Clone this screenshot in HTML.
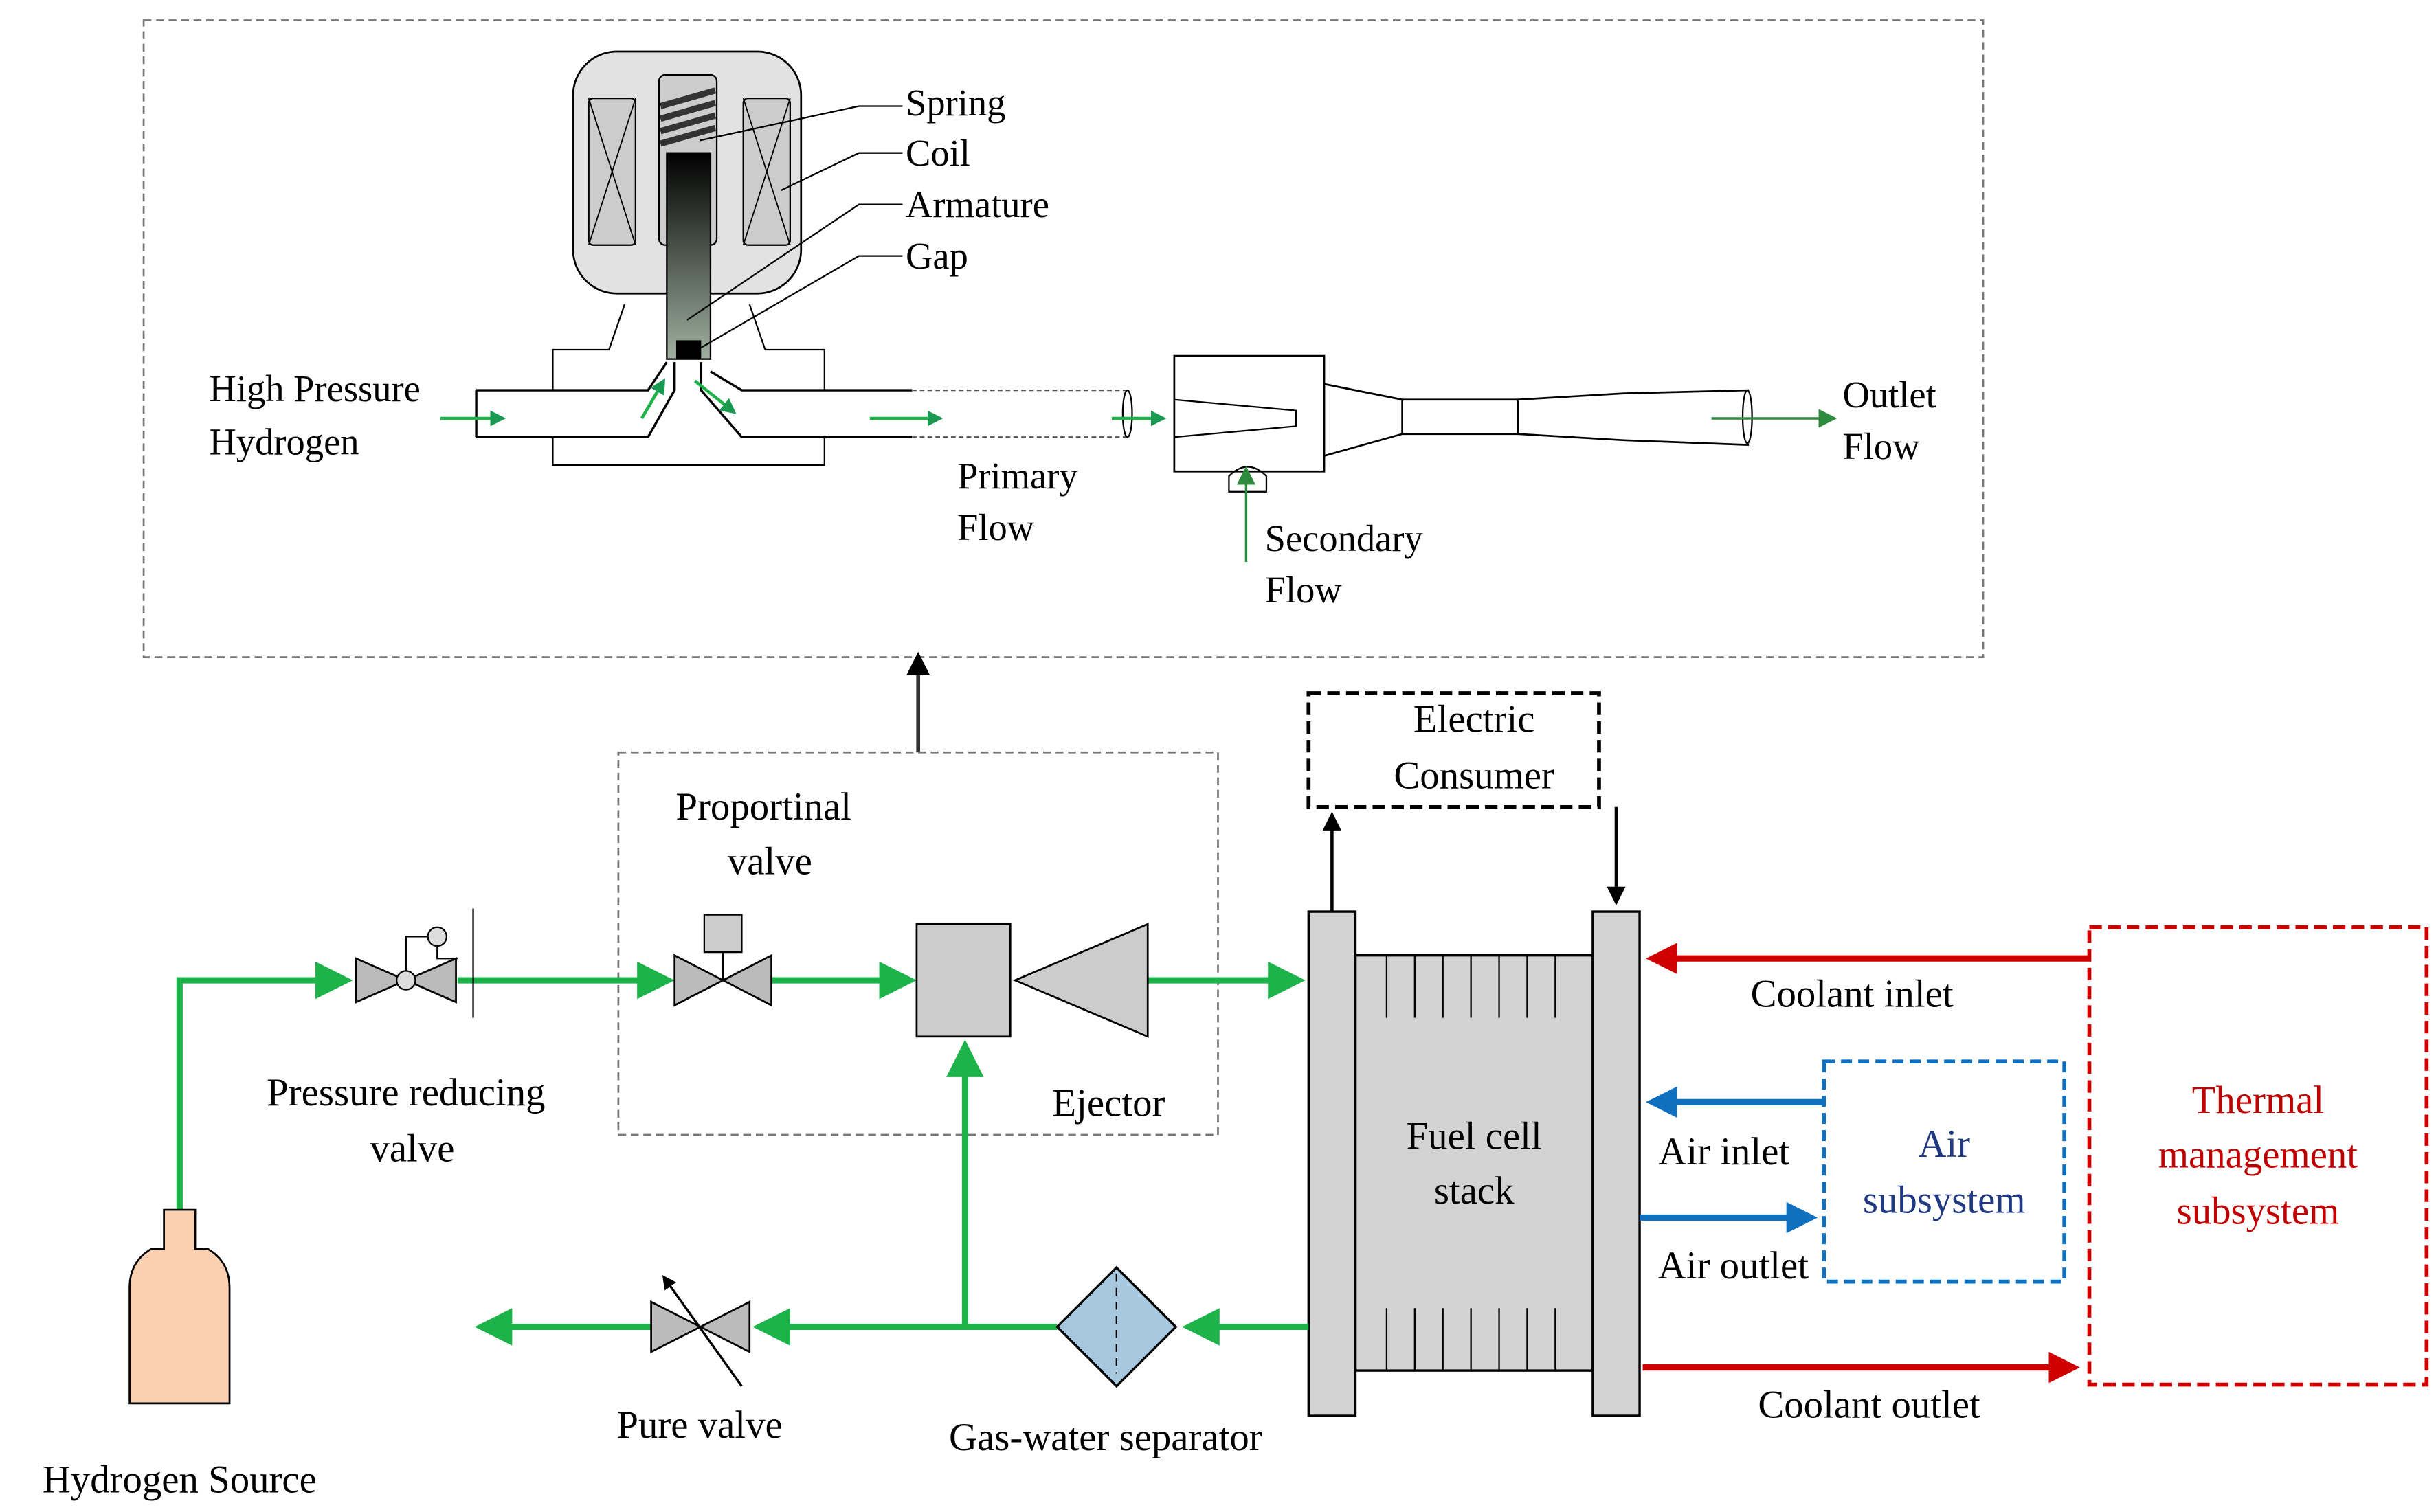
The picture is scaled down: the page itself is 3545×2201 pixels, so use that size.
<!DOCTYPE html>
<html><head><meta charset="utf-8"><style>html,body{margin:0;padding:0;background:#fff}svg{display:block}</style></head>
<body>
<svg width="3545" height="2201" viewBox="0 0 1560 968.6" preserveAspectRatio="none" xmlns="http://www.w3.org/2000/svg" font-family="Liberation Serif, serif">
<defs>
<marker id="g" markerWidth="6" markerHeight="6" refX="5" refY="3" orient="auto" markerUnits="strokeWidth"><path d="M0,0 L6,3 L0,6 z" fill="#1db34a"/></marker>
<marker id="gs" markerWidth="5" markerHeight="5" refX="4" refY="2.5" orient="auto" markerUnits="strokeWidth"><path d="M0,0 L5,2.5 L0,5 z" fill="#1a9a50"/></marker>
<marker id="gd" markerWidth="8" markerHeight="8" refX="7" refY="4" orient="auto" markerUnits="strokeWidth"><path d="M0,0 L8,4 L0,8 z" fill="#2e8b3e"/></marker>
<marker id="k" markerWidth="6" markerHeight="6" refX="5" refY="3" orient="auto" markerUnits="strokeWidth"><path d="M0,0 L6,3 L0,6 z" fill="#000"/></marker>
<marker id="r" markerWidth="5" markerHeight="5" refX="4" refY="2.5" orient="auto" markerUnits="strokeWidth"><path d="M0,0 L5,2.5 L0,5 z" fill="#d00000"/></marker>
<marker id="b" markerWidth="5" markerHeight="5" refX="4" refY="2.5" orient="auto" markerUnits="strokeWidth"><path d="M0,0 L5,2.5 L0,5 z" fill="#1070c0"/></marker>
<linearGradient id="arm" x1="0" y1="0" x2="0" y2="1"><stop offset="0" stop-color="#000"/><stop offset="1" stop-color="#9fb0a0"/></linearGradient>
</defs>
<rect x="92" y="13" width="1178" height="408" fill="none" stroke="#777" stroke-width="1.2" stroke-dasharray="5,3"/>
<rect x="367" y="33" width="146" height="155" rx="28" fill="#e2e2e2" stroke="#000" stroke-width="1.2"/>
<rect x="377" y="63" width="30" height="94" rx="3" fill="#ccc" stroke="#000"/>
<path d="M377,63 L407,157 M407,63 L377,157" stroke="#000" stroke-width="0.8"/>
<rect x="476" y="63" width="30" height="94" rx="3" fill="#ccc" stroke="#000"/>
<path d="M476,63 L506,157 M506,63 L476,157" stroke="#000" stroke-width="0.8"/>
<rect x="422" y="48" width="37" height="109" rx="4" fill="#ccc" stroke="#000"/>
<path d="M423,68 L458,58 M423,76 L458,66 M423,84 L458,74 M423,92 L458,82" stroke="#333" stroke-width="4"/>
<rect x="427" y="98" width="28" height="132" fill="url(#arm)" stroke="#000"/>
<rect x="433" y="218" width="16" height="12" fill="#000"/>
<path d="M400,195 L390,224 L354,224 L354,250 M480,195 L490,224 L528,224 L528,250" fill="none" stroke="#000"/>
<path d="M305,250 L415,250 L427,232 M305,280 L415,280 L432,250 L432,232 M449,232 L449,250 L475,280 L584,280 M455,238 L475,250 L584,250 M305,250 L305,280" fill="none" stroke="#000" stroke-width="1.5"/>
<path d="M354,280 L354,298 L528,298 L528,280" fill="none" stroke="#000"/>
<path d="M584,250 L722,250 M584,280 L722,280" stroke="#555" stroke-dasharray="3,2"/>
<ellipse cx="722" cy="265" rx="3" ry="15" fill="none" stroke="#000"/>
<rect x="752" y="228" width="96" height="74" fill="none" stroke="#000" stroke-width="1.2"/>
<path d="M752,256 L830,263 L830,273 L752,280" fill="none" stroke="#000"/>
<path d="M848,246 L898,256 L972,256 L1040,252 L1120,250 M848,292 L898,278 L972,278 L1040,282 L1120,285 M898,256 L898,278 M972,256 L972,278" fill="none" stroke="#000" stroke-width="1.2"/>
<ellipse cx="1119" cy="267" rx="3" ry="17" fill="none" stroke="#000"/>
<path d="M787,315 L787,305 Q799,293 811,305 L811,315 z" fill="none" stroke="#000"/>
<g stroke="#1db34a" stroke-width="2">
<path d="M282,268 L322,268" marker-end="url(#gs)"/>
<path d="M411,268 L425,244" marker-end="url(#gs)"/>
<path d="M445,244 L470,264" marker-end="url(#gs)"/>
<path d="M557,268 L602,268" marker-end="url(#gs)"/>
<path d="M712,268 L745,268" marker-end="url(#gs)"/>
</g>
<path d="M798,360 L798,300" stroke="#2e8b3e" stroke-width="1.5" marker-end="url(#gd)"/>
<path d="M1096,268 L1175,268" stroke="#2e8b3e" stroke-width="1.5" marker-end="url(#gd)"/>
<path d="M448,90 L550,68 L578,68 M500,122 L550,98 L578,98 M440,205 L550,131 L578,131 M445,225 L550,164 L578,164" fill="none" stroke="#000" stroke-width="1"/>
<g font-size="24" fill="#000">
<text x="580" y="74">Spring</text><text x="580" y="106">Coil</text><text x="580" y="139">Armature</text><text x="580" y="172">Gap</text>
<text x="134" y="257">High Pressure</text><text x="134" y="291">Hydrogen</text>
<text x="613" y="313">Primary</text><text x="613" y="346">Flow</text>
<text x="810" y="353">Secondary</text><text x="810" y="386">Flow</text>
<text x="1180" y="261">Outlet</text><text x="1180" y="294">Flow</text>
</g>
<path d="M588,482 L588,420" stroke="#333" stroke-width="2.5" marker-end="url(#k)"/>
<rect x="396" y="482" width="384" height="245" fill="none" stroke="#777" stroke-width="1.2" stroke-dasharray="5,3"/>
<rect x="838" y="444" width="186" height="73" fill="none" stroke="#000" stroke-width="2.5" stroke-dasharray="8,4"/>
<rect x="1168" y="680" width="154" height="141" fill="none" stroke="#1070c0" stroke-width="2.5" stroke-dasharray="7,4"/>
<rect x="1338" y="594" width="216" height="293" fill="none" stroke="#d00000" stroke-width="2.5" stroke-dasharray="8,4"/>
<rect x="868" y="612" width="152" height="266" fill="#d3d3d3" stroke="#000" stroke-width="1.5"/>
<rect x="838" y="584" width="30" height="323" fill="#d3d3d3" stroke="#000" stroke-width="1.5"/>
<rect x="1020" y="584" width="30" height="323" fill="#d3d3d3" stroke="#000" stroke-width="1.5"/>
<path d="M888,612v40M906,612v40M924,612v40M942,612v40M960,612v40M978,612v40M996,612v40M888,838v40M906,838v40M924,838v40M942,838v40M960,838v40M978,838v40M996,838v40" stroke="#000"/>
<path d="M853,584 L853,522" stroke="#000" stroke-width="2" marker-end="url(#k)"/>
<path d="M1035,517 L1035,578" stroke="#000" stroke-width="2" marker-end="url(#k)"/>
<path d="M1337,614 L1058,614" stroke="#d00000" stroke-width="4" marker-end="url(#r)"/>
<path d="M1052,876 L1328,876" stroke="#d00000" stroke-width="4" marker-end="url(#r)"/>
<path d="M1168,706 L1058,706" stroke="#1070c0" stroke-width="4" marker-end="url(#b)"/>
<path d="M1050,780 L1160,780" stroke="#1070c0" stroke-width="4" marker-end="url(#b)"/>
<g stroke="#1db34a" stroke-width="4" fill="none">
<path d="M115,775 L115,628 L222,628" marker-end="url(#g)"/>
<path d="M293,628 L428,628" marker-end="url(#g)"/>
<path d="M494,628 L583,628" marker-end="url(#g)"/>
<path d="M735,628 L832,628" marker-end="url(#g)"/>
<path d="M838,850 L761,850" marker-end="url(#g)"/>
<path d="M677,850 L486,850" marker-end="url(#g)"/>
<path d="M618,850 L618,670" marker-end="url(#g)"/>
<path d="M417,850 L308,850" marker-end="url(#g)"/>
</g>
<path d="M228,614 L228,642 L292,614 L292,642 z" fill="#bbb" stroke="#000" stroke-width="1.2"/>
<circle cx="260" cy="628" r="6" fill="#ddd" stroke="#000"/>
<path d="M260,622 L260,600 L280,600 M280,606 L280,614 L293,614 M303,582 L303,652" fill="none" stroke="#000"/>
<circle cx="280" cy="600" r="6" fill="#ddd" stroke="#000"/>
<path d="M432,612 L432,644 L494,612 L494,644 z" fill="#bbb" stroke="#000" stroke-width="1.2"/>
<path d="M463,628 L463,610" stroke="#000"/>
<rect x="451" y="586" width="24" height="24" fill="#ccc" stroke="#000"/>
<rect x="587" y="592" width="60" height="72" fill="#ccc" stroke="#000" stroke-width="1.2"/>
<path d="M650,628 L735,592 L735,664 z" fill="#ccc" stroke="#000" stroke-width="1.2"/>
<path d="M417,834 L417,866 L480,834 L480,866 z" fill="#bbb" stroke="#000" stroke-width="1.2"/>
<path d="M475,888 L425,818" stroke="#000" stroke-width="1.5" marker-end="url(#k)"/>
<path d="M715,812 L753,850 L715,888 L677,850 z" fill="#a8c8e0" stroke="#000" stroke-width="1.5"/>
<path d="M700,873 L715,888 L730,873" fill="none" stroke="#000"/>
<path d="M715,816 L715,880" stroke="#000" stroke-dasharray="5,4"/>
<path d="M105,775 L125,775 L125,800 L133,800 Q147,808 147,825 L147,899 L83,899 L83,825 Q83,808 97,800 L105,800 z" fill="#fbd0b0" stroke="#000" stroke-width="1.2"/>
<g font-size="25" fill="#000" text-anchor="middle">
<text x="489" y="525">Proportinal</text><text x="493" y="560">valve</text>
<text x="260" y="708">Pressure reducing</text><text x="264" y="744">valve</text>
<text x="710" y="715">Ejector</text>
<text x="944" y="469">Electric</text><text x="944" y="505">Consumer</text>
<text x="944" y="736">Fuel cell</text><text x="944" y="771">stack</text>
<text x="1186" y="645">Coolant inlet</text>
<text x="1104" y="746">Air inlet</text>
<text x="1110" y="819">Air outlet</text>
<text x="1197" y="908">Coolant outlet</text>
<text x="448" y="921">Pure valve</text>
<text x="708" y="929">Gas-water separator</text>
<text x="115" y="956">Hydrogen Source</text>
<text x="1245" y="741" fill="#1f3a80">Air</text><text x="1245" y="777" fill="#1f3a80">subsystem</text>
<text x="1446" y="713" fill="#c00000">Thermal</text><text x="1446" y="748" fill="#c00000">management</text><text x="1446" y="784" fill="#c00000">subsystem</text>
</g>
</svg>
</body></html>
